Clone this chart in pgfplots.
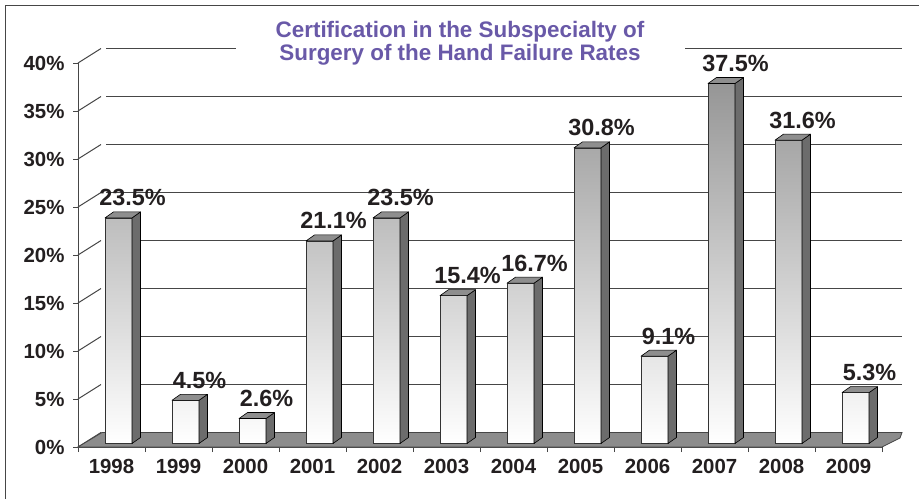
\documentclass[border=0pt]{standalone}
\usepackage{pgfplots}
\pgfplotsset{compat=1.18}
\usepackage{pgfplotstable}
\usepackage{fontspec}
\setmainfont{Liberation Sans}
\definecolor{txt}{RGB}{35,31,32}
\definecolor{titlepurple}{RGB}{105,89,168}
\definecolor{sidegray}{RGB}{108,108,108}
\definecolor{topgray}{RGB}{142,142,142}
\definecolor{frontgray}{RGB}{150,150,150}
\definecolor{floorgray}{RGB}{140,140,140}
\definecolor{gridgray}{RGB}{70,70,70}

\pgfplotstableread{
x v
1 23.5
2 4.5
3 2.6
4 21.1
5 23.5
6 15.4
7 16.7
8 30.8
9 9.1
10 37.5
11 31.6
12 5.3
}\rates

% side and top faces of a 3D bar, origin at the data point (bar top, category centre)
\pgfdeclareplotmark{bar3d}{%
  \pgfmathsetlengthmacro\hh{\barval*9.6bp}%
  \pgfsetfillcolor{sidegray}%
  \pgfpathmoveto{\pgfpoint{20.5bp}{3.5bp}}%
  \pgfpathlineto{\pgfpoint{29bp}{9.5bp}}%
  \pgfpathlineto{\pgfpoint{29bp}{9.5bp-\hh}}%
  \pgfpathlineto{\pgfpoint{20.5bp}{3.5bp-\hh}}%
  \pgfpathclose
  \pgfusepath{fill,stroke}%
  \pgfsetfillcolor{topgray}%
  \pgfpathmoveto{\pgfpoint{-6.5bp}{3.5bp}}%
  \pgfpathlineto{\pgfpoint{2bp}{9.5bp}}%
  \pgfpathlineto{\pgfpoint{29bp}{9.5bp}}%
  \pgfpathlineto{\pgfpoint{20.5bp}{3.5bp}}%
  \pgfpathclose
  \pgfusepath{fill,stroke}%
}

\begin{document}
\begin{tikzpicture}
\useasboundingbox (0,0) rectangle (919bp,-499bp);
\draw[line width=1.5bp, gridgray] (5.5bp,-499bp) -- (5.5bp,-5.5bp) -- (919bp,-5.5bp);
\begin{axis}[
  at={(78bp,-447bp)}, anchor=south west,
  x=67bp, y=9.6bp,
  xmin=0.5, xmax=12.5, ymin=0, ymax=40,
  axis lines*=left,
  axis line style={draw=gridgray, line width=1bp},
  clip=false,
  xtick={0.5,1.5,...,12.5}, xticklabels={},
  extra x ticks={1,2,...,12},
  extra x tick labels={1998,1999,2000,2001,2002,2003,2004,2005,2006,2007,2008,2009},
  extra x tick style={major tick length=0pt, xticklabel style={yshift=-9bp}},
  ytick={0,5,...,40},
  yticklabel={\pgfmathprintnumber{\tick}\%},
  yticklabel style={xshift=-5bp},
  tick align=outside,
  major tick length=5bp,
  tick style={draw=gridgray, line width=1bp},
  tick label style={font=\fontsize{20.5}{24}\selectfont\bfseries, text=txt},
  /pgf/number format/assume math mode=true,
]
\pgfplotsinvokeforeach{5,10,...,40}{
  \draw[gridgray, line width=1.2bp] ([xshift=28bp,yshift=14.5bp]axis cs:0.5,#1) -- ([xshift=20bp,yshift=14.5bp]axis cs:12.5,#1);
}
\pgfplotsinvokeforeach{0,5,...,40}{
  \draw[gridgray, line width=1bp] (axis cs:0.5,#1) -- ++(23bp,14.5bp);
}
\filldraw[fill=floorgray, draw=gridgray, line width=0.8bp]
  (axis cs:0.5,0) -- (axis cs:12.5,0) -- ([xshift=18bp,yshift=9bp]axis cs:12.5,0)
  -- ([xshift=20bp,yshift=14.5bp]axis cs:12.5,0) -- ([xshift=24bp,yshift=14.5bp]axis cs:0.5,0) -- cycle;

\addplot[ybar, bar width=27bp, bar shift=7bp, yshift=3.5bp, draw=black!80, line width=0.6bp,
  top color=frontgray, bottom color=white] table[x=x,y=v]{\rates};

\addplot[scatter, only marks, mark=bar3d, point meta=explicit,
  scatter/use mapped color={draw=black!80, fill=topgray},
  mark options={line width=0.6bp, line join=round},
  visualization depends on={\thisrow{v}\as\barval},
  nodes near coords={\pgfmathprintnumber[fixed,fixed zerofill,precision=1]{\pgfplotspointmeta}\%},
  every node near coord/.append style={anchor=base, xshift=21bp, yshift=15.5bp,
    font=\fontsize{23.5}{27}\selectfont\bfseries, text=txt}]
  table[x=x, y=v, meta=v]{\rates};
\end{axis}
\node[fill=white, inner xsep=0pt, inner ysep=1bp, minimum width=449bp, align=center,
  font=\fontsize{22.5}{23.5}\selectfont\bfseries, text=titlepurple] at (460bp,-43bp)
  {Certification in the Subspecialty of\\Surgery of the Hand Failure Rates};
\end{tikzpicture}
\end{document}
